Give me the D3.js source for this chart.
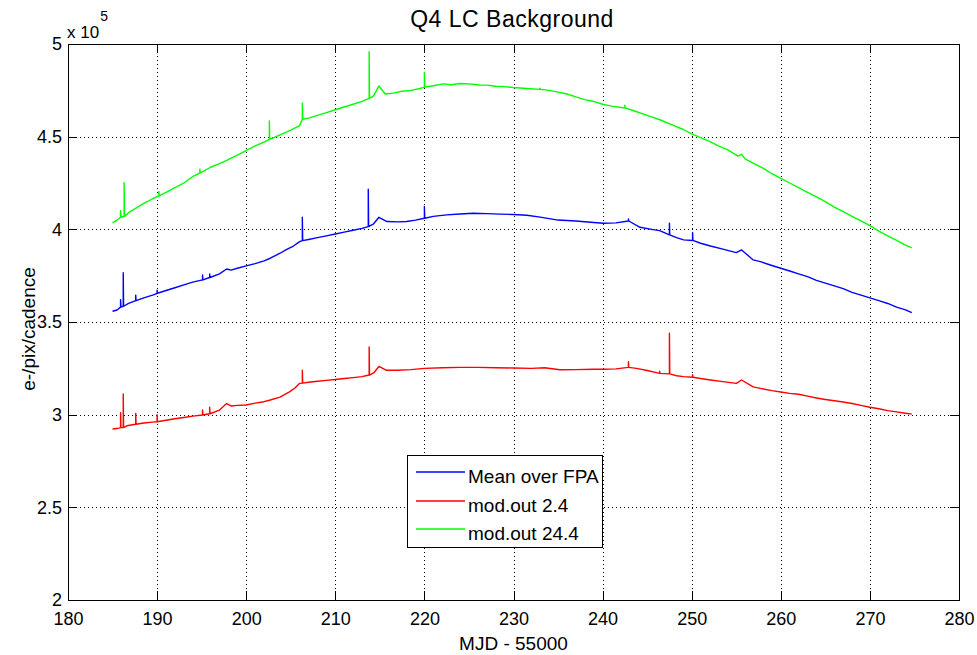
<!DOCTYPE html>
<html>
<head>
<meta charset="utf-8">
<script src="https://cdn.jsdelivr.net/npm/d3@7"></script>
<style>
  html, body { margin: 0; padding: 0; background: #fff; }
  svg { display: block; font-family: "Liberation Sans", Arial, Helvetica, sans-serif; }
</style>
</head>
<body>
<svg id="chart" width="977" height="655"></svg>
<script>
// Background flux per cadence, in units of 1e5 e-/pix/cadence.
// Each row: [MJD - 55000, value, optional spike peak at that day].
const meanFPA = [
  [185.0, 3.558], [185.5, 3.565], [185.9, 3.580, 3.620], [186.2, 3.585, 3.766],
  [186.8, 3.600], [187.6, 3.615, 3.645], [188.5, 3.630], [189.5, 3.645],
  [190.0, 3.655, 3.672], [191.0, 3.670], [192.0, 3.685], [193.0, 3.700],
  [194.0, 3.715], [195.1, 3.727, 3.754], [195.9, 3.740, 3.759], [197.0, 3.760],
  [197.8, 3.786], [198.3, 3.780], [199.0, 3.790], [200.0, 3.803], [201.0, 3.815],
  [202.0, 3.830], [202.7, 3.844], [203.8, 3.871], [204.5, 3.890], [205.3, 3.910],
  [206.0, 3.934], [206.3, 3.939, 4.065], [207.0, 3.945], [208.0, 3.955],
  [209.0, 3.965], [210.0, 3.975], [211.0, 3.985], [212.0, 3.995], [213.0, 4.005],
  [213.7, 4.015, 4.216], [214.3, 4.030], [214.9, 4.065], [215.8, 4.042],
  [217.0, 4.040], [218.0, 4.042], [219.0, 4.050], [220.0, 4.060, 4.123],
  [221.0, 4.070], [222.5, 4.078], [224.0, 4.083], [225.5, 4.087], [227.0, 4.085],
  [228.5, 4.082], [230.0, 4.080], [231.5, 4.076], [233.0, 4.066], [235.0, 4.050],
  [237.0, 4.045], [239.0, 4.037], [240.1, 4.033], [241.5, 4.035],
  [242.9, 4.045, 4.056], [244.2, 4.011], [245.5, 4.000], [246.4, 3.993],
  [247.5, 3.970, 4.033], [248.3, 3.955], [249.1, 3.943], [250.1, 3.940, 3.982],
  [251.0, 3.925], [252.1, 3.910], [253.5, 3.893], [255.0, 3.874], [255.6, 3.889],
  [256.9, 3.835], [257.7, 3.826], [259.0, 3.805], [260.0, 3.790], [261.0, 3.775],
  [262.0, 3.760], [263.0, 3.745], [264.0, 3.725], [265.0, 3.710], [266.0, 3.695],
  [267.0, 3.680], [268.0, 3.660], [269.0, 3.645], [270.0, 3.630], [271.0, 3.615],
  [272.0, 3.600], [273.0, 3.580], [274.0, 3.565], [274.7, 3.550]
];

const modOut2_4 = [
  [185.0, 2.923], [185.5, 2.925], [185.9, 2.930, 3.010], [186.2, 2.930, 3.112],
  [186.6, 2.940], [187.6, 2.948, 3.007], [188.5, 2.955], [189.5, 2.960],
  [190.0, 2.962, 3.000], [191.0, 2.970], [192.0, 2.978], [193.0, 2.985],
  [194.0, 2.992], [195.1, 2.998, 3.025], [195.9, 3.005, 3.040], [197.0, 3.025],
  [197.8, 3.060], [198.3, 3.047], [199.0, 3.050], [200.0, 3.052], [201.0, 3.062],
  [202.0, 3.070], [202.7, 3.079], [203.8, 3.095], [204.9, 3.124], [205.5, 3.145],
  [206.0, 3.169], [206.3, 3.170, 3.240], [207.0, 3.175], [208.0, 3.180],
  [209.0, 3.185], [210.0, 3.190], [211.0, 3.195], [212.0, 3.200], [213.0, 3.205],
  [213.8, 3.214, 3.365], [214.3, 3.225], [214.9, 3.260], [215.7, 3.240],
  [217.0, 3.240], [218.5, 3.243], [220.0, 3.250], [222.0, 3.253], [224.0, 3.255],
  [226.0, 3.255], [228.0, 3.253], [230.0, 3.252], [232.0, 3.250], [233.5, 3.253],
  [235.2, 3.242], [237.0, 3.243], [239.0, 3.245], [240.1, 3.245], [241.5, 3.247],
  [242.9, 3.255, 3.286], [243.8, 3.250], [245.0, 3.238], [246.4, 3.223, 3.235],
  [247.5, 3.220, 3.439], [248.3, 3.210], [249.1, 3.205], [250.1, 3.202, 3.215],
  [251.0, 3.195], [252.1, 3.187], [253.5, 3.178], [255.0, 3.169], [255.6, 3.187],
  [256.9, 3.150], [257.7, 3.142], [259.0, 3.130], [260.0, 3.122], [261.0, 3.115],
  [262.0, 3.110], [263.0, 3.100], [264.0, 3.090], [265.0, 3.082], [266.0, 3.075],
  [267.0, 3.068], [268.0, 3.060], [269.0, 3.050], [270.0, 3.040], [271.0, 3.032],
  [272.0, 3.022], [273.0, 3.015], [274.0, 3.008], [274.7, 3.003]
];

const modOut24_4 = [
  [185.0, 4.035], [185.5, 4.050], [185.9, 4.065, 4.100], [186.3, 4.070, 4.252],
  [186.8, 4.090], [187.5, 4.110], [188.5, 4.140], [189.5, 4.165],
  [190.2, 4.180, 4.205], [191.0, 4.200], [192.0, 4.225], [193.0, 4.250],
  [194.0, 4.285], [194.8, 4.305, 4.325], [196.0, 4.335], [197.0, 4.355],
  [197.8, 4.372], [199.0, 4.400], [200.0, 4.425], [201.0, 4.450], [202.0, 4.470],
  [202.6, 4.485, 4.585], [203.8, 4.510], [205.0, 4.535], [206.0, 4.560],
  [206.3, 4.594, 4.680], [207.0, 4.600], [208.0, 4.615], [209.0, 4.630],
  [210.0, 4.645], [211.0, 4.660], [212.0, 4.675], [213.0, 4.690],
  [213.8, 4.707, 4.959], [214.3, 4.720], [214.9, 4.774], [215.6, 4.730],
  [216.5, 4.735], [217.5, 4.745], [218.5, 4.750], [219.5, 4.760],
  [220.0, 4.767, 4.847], [221.0, 4.775], [222.1, 4.785], [223.0, 4.780],
  [224.0, 4.787], [225.0, 4.785], [226.2, 4.779], [227.0, 4.778], [228.0, 4.772],
  [229.0, 4.770], [230.0, 4.765], [231.5, 4.760], [233.0, 4.755, 4.762],
  [234.0, 4.750], [235.0, 4.740], [236.0, 4.730], [237.0, 4.715], [238.0, 4.700],
  [239.0, 4.690], [240.0, 4.675], [241.0, 4.665], [242.5, 4.655, 4.670],
  [243.5, 4.640], [245.0, 4.615], [246.5, 4.590], [248.0, 4.560], [249.0, 4.540],
  [250.0, 4.515], [251.0, 4.495], [252.0, 4.475], [253.0, 4.450], [254.0, 4.430],
  [255.2, 4.395], [255.6, 4.405], [256.0, 4.380], [257.0, 4.355], [258.0, 4.330],
  [259.0, 4.300], [260.0, 4.275], [261.0, 4.250], [262.0, 4.225], [263.0, 4.200],
  [264.0, 4.175], [265.0, 4.150], [266.0, 4.120], [267.0, 4.095], [268.0, 4.070],
  [269.0, 4.045], [270.0, 4.020], [271.0, 3.990], [272.0, 3.965], [273.0, 3.940],
  [274.0, 3.915], [274.7, 3.900]
];

const seriesNames = ["Mean over FPA", "mod.out 2.4", "mod.out 24.4"];
const seriesColors = ["#0000ff", "#ff0000", "#00ff00"];
const seriesData = [meanFPA, modOut2_4, modOut24_4];

const xTicks = [180, 190, 200, 210, 220, 230, 240, 250, 260, 270, 280];
const yTicks = [2, 2.5, 3, 3.5, 4, 4.5, 5];
const yExponent = 5;

const titleText = "Q4 LC Background";
const xLabelText = "MJD - 55000";
const yLabelText = "e-/pix/cadence";

// ---- layout ----
const plot = { left: 68, right: 959, top: 44, bottom: 600 };
const tickLen = 9;

const svg = d3.select("#chart");

const x = d3.scaleLinear().domain([180, 280]).range([plot.left, plot.right]);
const y = d3.scaleLinear().domain([2, 5]).range([plot.bottom, plot.top]);

// white axes background
svg.append("rect")
  .attr("x", plot.left).attr("y", plot.top)
  .attr("width", plot.right - plot.left).attr("height", plot.bottom - plot.top)
  .attr("fill", "#fff");

// dotted grid
const grid = svg.append("g").attr("stroke", "#000").attr("stroke-width", 1)
  .attr("stroke-dasharray", "1,3").attr("shape-rendering", "crispEdges");
grid.selectAll("line.gx").data(xTicks.slice(1, -1)).join("line")
  .attr("class", "gx")
  .attr("x1", d => Math.round(x(d)) + 0.5).attr("x2", d => Math.round(x(d)) + 0.5)
  .attr("y1", plot.top).attr("y2", plot.bottom);
grid.selectAll("line.gy").data(yTicks.slice(1, -1)).join("line")
  .attr("class", "gy")
  .attr("y1", d => Math.round(y(d)) + 0.5).attr("y2", d => Math.round(y(d)) + 0.5)
  .attr("x1", plot.left).attr("x2", plot.right);

// series lines; a spike is drawn as a vertical excursion at its day
function expand(rows) {
  const pts = [];
  rows.forEach(r => {
    pts.push([r[0], r[1]]);
    if (r.length > 2) {
      pts.push([r[0], r[2]]);
      pts.push([r[0] + 0.04, r[1]]);
    }
  });
  return pts;
}
const line = d3.line().x(d => x(d[0])).y(d => y(d[1]));
const lines = svg.append("g").attr("fill", "none").attr("stroke-width", 1.4)
  .attr("stroke-linejoin", "round");
seriesData.forEach((rows, i) => {
  lines.append("path")
    .attr("d", line(expand(rows)))
    .attr("stroke", seriesColors[i]);
});

// axes: labelled bottom/left, unlabelled top/right, ticks pointing inward
const fmt = d => String(d);
const axFont = 18;

const gBottom = svg.append("g").attr("transform", `translate(0,${plot.bottom})`)
  .call(d3.axisBottom(x).tickValues(xTicks).tickFormat(fmt)
    .tickSizeInner(-tickLen).tickSizeOuter(0).tickPadding(12));
const gLeft = svg.append("g").attr("transform", `translate(${plot.left},0)`)
  .call(d3.axisLeft(y).tickValues(yTicks).tickFormat(fmt)
    .tickSizeInner(-tickLen).tickSizeOuter(0).tickPadding(6));
const gTop = svg.append("g").attr("transform", `translate(0,${plot.top})`)
  .call(d3.axisTop(x).tickValues(xTicks).tickFormat("")
    .tickSizeInner(-tickLen).tickSizeOuter(0));
const gRight = svg.append("g").attr("transform", `translate(${plot.right},0)`)
  .call(d3.axisRight(y).tickValues(yTicks).tickFormat("")
    .tickSizeInner(-tickLen).tickSizeOuter(0));

[gBottom, gLeft, gTop, gRight].forEach(g => {
  g.select(".domain").remove();
  g.selectAll(".tick line").attr("stroke", "#000").attr("stroke-width", 1)
    .attr("shape-rendering", "crispEdges");
  g.selectAll(".tick text").attr("fill", "#000")
    .attr("font-size", axFont).attr("font-family", "Liberation Sans, Arial, sans-serif");
});

// axes box
svg.append("rect")
  .attr("x", plot.left + 0.5).attr("y", plot.top + 0.5)
  .attr("width", plot.right - plot.left).attr("height", plot.bottom - plot.top)
  .attr("fill", "none").attr("stroke", "#000").attr("stroke-width", 1)
  .attr("shape-rendering", "crispEdges");

// exponent marker for the y axis
const expText = svg.append("text").attr("x", 67).attr("y", 38)
  .attr("font-size", 17).attr("fill", "#000");
expText.append("tspan").text("x 10");
expText.append("tspan").attr("dy", -17).attr("font-size", 14).attr("dx", 1).text(yExponent);

// title and axis labels
svg.append("text").attr("x", 512).attr("y", 27).attr("text-anchor", "middle")
  .attr("font-size", 23).attr("letter-spacing", 0.5).attr("fill", "#000").text(titleText);
svg.append("text").attr("x", (plot.left + plot.right) / 2).attr("y", 650)
  .attr("text-anchor", "middle").attr("font-size", 19).attr("fill", "#000").text(xLabelText);
svg.append("text").attr("transform", `translate(35,329) rotate(-90)`)
  .attr("text-anchor", "middle").attr("font-size", 19).attr("fill", "#000").text(yLabelText);

// legend
const legend = svg.append("g");
legend.append("rect").attr("x", 407.5).attr("y", 455.5).attr("width", 195).attr("height", 92)
  .attr("fill", "#fff").attr("stroke", "#000").attr("stroke-width", 1);
const rowY = [472, 501, 529];
seriesNames.forEach((name, i) => {
  legend.append("line").attr("x1", 416).attr("x2", 465)
    .attr("y1", rowY[i]).attr("y2", rowY[i])
    .attr("stroke", seriesColors[i]).attr("stroke-width", 1.6);
  legend.append("text").attr("x", 468).attr("y", rowY[i] + 10.5)
    .attr("font-size", 19).attr("fill", "#000").text(name);
});
</script>
</body>
</html>
